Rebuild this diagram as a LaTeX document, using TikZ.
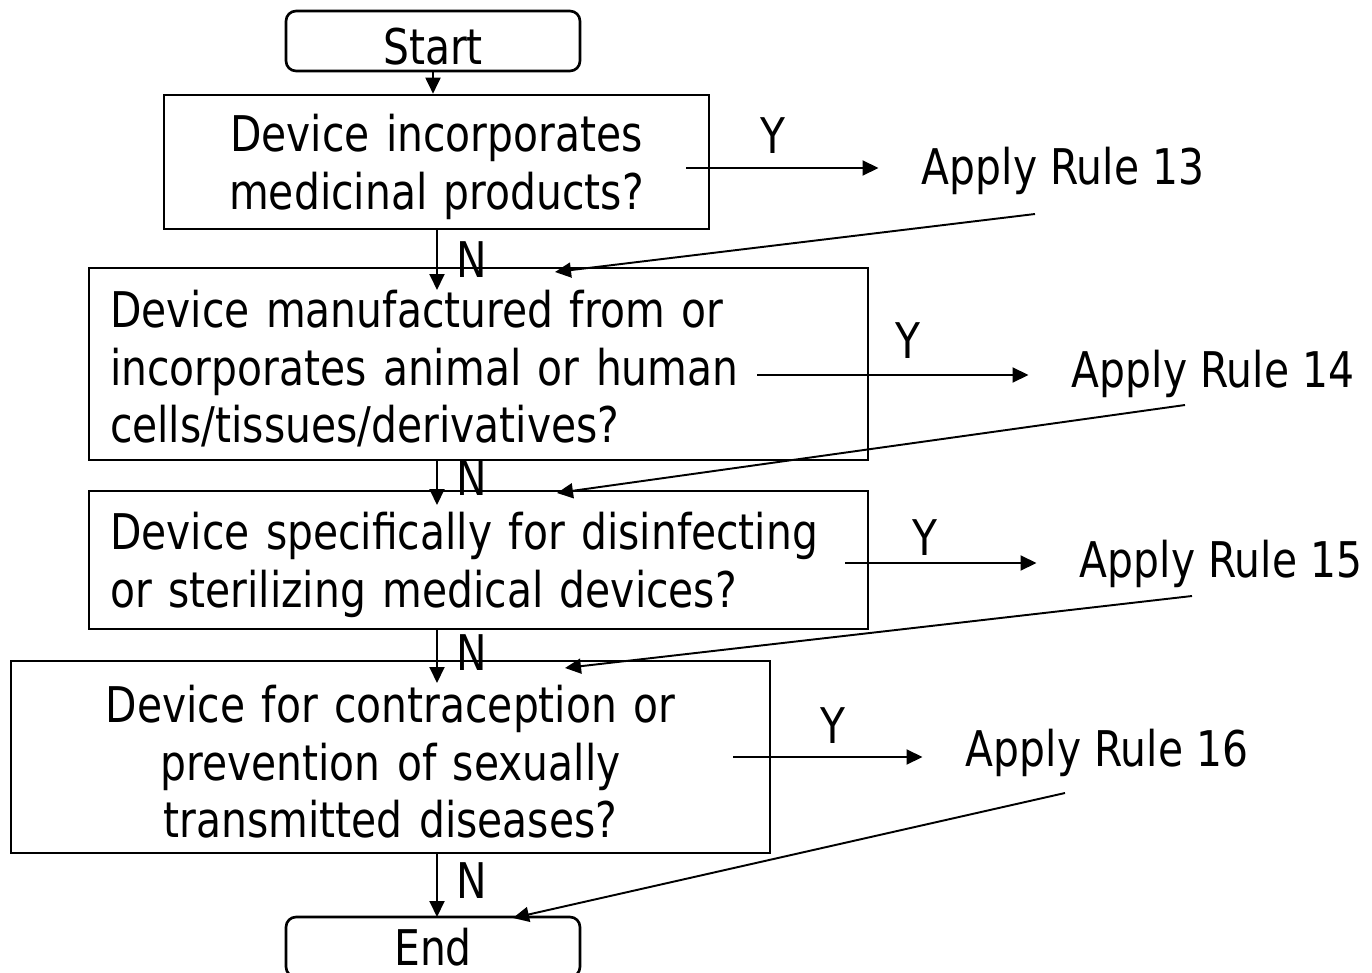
\documentclass[tikz,border=0pt]{standalone}
\usepackage{fontspec}
\setmainfont{DejaVu Sans}[FakeStretch=0.83]
\usetikzlibrary{arrows.meta}
\begin{document}
\begin{tikzpicture}[x=0.02cm, y=-0.02cm, line width=1.1pt, font=\fontsize{28}{32.7}\selectfont]
	\tikzset{lower/.style={execute at begin node={\rule{0pt}{27pt}}}};
	\tikzset{term/.style={draw, line width=1.5pt, rounded corners=0.2cm, minimum width=5.88cm, minimum height=1.2cm, inner sep=0pt}};
	\tikzset{qbox/.style={draw, lower, line width=1.5pt, align=center, inner sep=0pt}};
	\tikzset{qleft/.style={draw, lower, line width=1.5pt, align=left, inner xsep=0.42cm, inner ysep=0pt, text width=14.74cm}};
	\tikzset{rule/.style={inner xsep=0.85cm}};
	\tikzset{arr/.style={-{Triangle[length=0.32cm, width=0.3cm]}}};
	\useasboundingbox (0,0) rectangle (1372,973);

	\node[term, lower] (start) at (433,41) {Start};
	\node[qbox, text width=10.9cm, minimum height=2.68cm] (q1) at (436.5,162) {Device incorporates\\medicinal products?};
	\node[qleft, minimum height=3.84cm] (q2) at (478.5,364) {Device manufactured from or\\incorporates animal or human\\cells/tissues/derivatives?};
	\node[qleft, minimum height=2.76cm] (q3) at (478.5,560) {Device specifically for disinfecting\\or sterilizing medical devices?};
	\node[qbox, text width=15.18cm, minimum height=3.84cm] (q4) at (390.5,757) {Device for contraception or\\prevention of sexually\\transmitted diseases?};
	\node[term] (end) at (433,947) {End};

	\node[rule] (r1) at (1063,171) {Apply Rule 13};
	\node[rule] (r2) at (1213,374) {Apply Rule 14};
	\node[rule] (r3) at (1221,564) {Apply Rule 15};
	\node[rule] (r4) at (1107,753) {Apply Rule 16};

	\node (y1) at (773,136) {Y};
	\node (y2) at (908,341) {Y};
	\node (y3) at (925,538) {Y};
	\node (y4) at (833,726) {Y};
	\node (no1) at (472,260) {N};
	\node (no2) at (472,478) {N};
	\node (no3) at (472,653) {N};
	\node (no4) at (472,881) {N};

	\coordinate (s1) at (686,168);
	\coordinate (s2) at (757,375);
	\coordinate (s3) at (845,563);
	\coordinate (s4) at (733,757);
	\coordinate (n1) at (437,290);
	\coordinate (n2) at (437,505);
	\coordinate (n3) at (437,683);
	\coordinate (n4) at (437,917);
	\coordinate (d1) at (1035,214);
	\coordinate (d2) at (1185,405);
	\coordinate (d3) at (1192,596);
	\coordinate (d4) at (1065,793);
	\coordinate (e1) at (555,272);
	\coordinate (e2) at (557,493);
	\coordinate (e3) at (565,668);
	\coordinate (e4) at (513,918);

	\draw[arr] (start.south) -- (start.south |- q1.north);
	\draw[arr] (q1.south -| n1) -- (n1);
	\draw[arr] (q2.south -| n2) -- (n2);
	\draw[arr] (q3.south -| n3) -- (n3);
	\draw[arr] (q4.south -| n4) -- (n4);

	\draw[arr] (s1) -- (s1 -| r1.west);
	\draw[arr] (s2) -- (s2 -| r2.west);
	\draw[arr] (s3) -- (s3 -| r3.west);
	\draw[arr] (s4) -- (s4 -| r4.west);

	\draw[arr] (d1) -- (e1);
	\draw[arr] (d2) -- (e2);
	\draw[arr] (d3) -- (e3);
	\draw[arr] (d4) -- (e4);

\end{tikzpicture}
\end{document}
